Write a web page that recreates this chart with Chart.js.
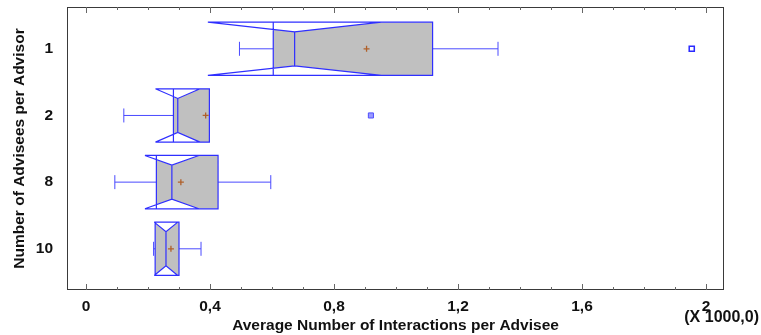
<!DOCTYPE html>
<html>
<head>
<meta charset="utf-8">
<script src="https://cdn.jsdelivr.net/npm/chart.js@4"></script>
<style>
  body { margin: 0; background: #fff; }
</style>
</head>
<body>
<canvas id="boxChart" width="761" height="335"></canvas>
<script>
// groups (y axis categories), top to bottom
var groups = ["1", "2", "8", "10"];

// box plot statistics, in units of 1000 interactions
var q1 = [0.604, 0.282, 0.227, 0.223];
var medians = [0.673, 0.296, 0.277, 0.258];
var q3 = [1.118, 0.398, 0.426, 0.300];
var whiskerLo = [0.495, 0.122, 0.093, 0.218];
var whiskerHi = [1.329, 0.398, 0.596, 0.371];
var means = [0.905, 0.386, 0.306, 0.274];
var notchHalf = [0.28, 0.072, 0.087, 0.038];

// outside points: [group index, value]
var outsidePoints = [[0, 1.954]];
var farOutsidePoints = [[1, 0.919]];

// x axis ticks
var xTicks = [0, 0.4, 0.8, 1.2, 1.6, 2];
var xTickLabels = ["0", "0,4", "0,8", "1,2", "1,6", "2"];

var FONT = "'Liberation Sans', Arial, sans-serif";
var FONT_SIZE = 15.5;
var BLUE = "#2f2fff";

// notched boxes, whiskers, frame and inward ticks
var boxPlugin = {
    id: "notchedBoxes",
    beforeDatasetsDraw: function (chart) {
        var ctx = chart.ctx;
        var x = chart.scales.x, y = chart.scales.y;
        var area = chart.chartArea;

        // frame
        ctx.save();
        ctx.strokeStyle = "#3a3a3a";
        ctx.lineWidth = 1;
        ctx.strokeRect(area.left + 0.5, area.top + 0.5, area.right - area.left - 1, area.bottom - area.top - 1);

        // ticks every 0.1, inward on top and bottom
        ctx.strokeStyle = "#666";
        for (var k = 0; k <= 20; k++) {
            var px = Math.round(x.getPixelForValue(k / 10)) + 0.5;
            var len = (k % 4 === 0) ? 6 : 3;
            ctx.beginPath();
            ctx.moveTo(px, area.top);
            ctx.lineTo(px, area.top + len);
            ctx.moveTo(px, area.bottom);
            ctx.lineTo(px, area.bottom - len);
            ctx.stroke();
        }
        ctx.restore();

        groups.forEach(function (g, i) {
            var yc = y.getPixelForValue(i);
            var top = y.getPixelForValue(i - 0.4);
            var bot = y.getPixelForValue(i + 0.4);
            var nTop = y.getPixelForValue(i - 0.255);
            var nBot = y.getPixelForValue(i + 0.255);
            var capT = y.getPixelForValue(i - 0.105);
            var capB = y.getPixelForValue(i + 0.105);

            var xq1 = x.getPixelForValue(q1[i]);
            var xq3 = x.getPixelForValue(q3[i]);
            var xm = x.getPixelForValue(medians[i]);
            var xnl = x.getPixelForValue(medians[i] - notchHalf[i]);
            var xnh = x.getPixelForValue(medians[i] + notchHalf[i]);
            var xwl = x.getPixelForValue(whiskerLo[i]);
            var xwh = x.getPixelForValue(whiskerHi[i]);

            ctx.save();

            // whiskers
            ctx.strokeStyle = "#4a4aff";
            ctx.lineWidth = 1;
            ctx.beginPath();
            if (xwl < xq1) {
                ctx.moveTo(xwl, yc); ctx.lineTo(xq1, yc);
                ctx.moveTo(xwl, capT); ctx.lineTo(xwl, capB);
            }
            if (xwh > xq3) {
                ctx.moveTo(xq3, yc); ctx.lineTo(xwh, yc);
                ctx.moveTo(xwh, capT); ctx.lineTo(xwh, capB);
            }
            ctx.stroke();

            // fill: box clipped by notch
            ctx.save();
            ctx.beginPath();
            ctx.rect(xq1, top, xq3 - xq1, bot - top);
            ctx.clip();
            ctx.beginPath();
            ctx.moveTo(xq1 - 1000, top);
            ctx.lineTo(xnl, top);
            ctx.lineTo(xm, nTop);
            ctx.lineTo(xnh, top);
            ctx.lineTo(xq3 + 1000, top);
            ctx.lineTo(xq3 + 1000, bot);
            ctx.lineTo(xnh, bot);
            ctx.lineTo(xm, nBot);
            ctx.lineTo(xnl, bot);
            ctx.lineTo(xq1 - 1000, bot);
            ctx.closePath();
            ctx.fillStyle = "#c0c0c0";
            ctx.fill();
            ctx.restore();

            // outlines
            ctx.strokeStyle = BLUE;
            ctx.lineWidth = 1.2;
            ctx.beginPath();
            ctx.rect(xq1, top, xq3 - xq1, bot - top);
            ctx.moveTo(Math.min(xnl, xq1), top); ctx.lineTo(xq1, top);
            ctx.moveTo(Math.min(xnl, xq1), bot); ctx.lineTo(xq1, bot);
            ctx.moveTo(xq3, top); ctx.lineTo(Math.max(xnh, xq3), top);
            ctx.moveTo(xq3, bot); ctx.lineTo(Math.max(xnh, xq3), bot);
            ctx.moveTo(xnl, top); ctx.lineTo(xm, nTop); ctx.lineTo(xnh, top);
            ctx.moveTo(xnl, bot); ctx.lineTo(xm, nBot); ctx.lineTo(xnh, bot);
            ctx.moveTo(xm, nTop); ctx.lineTo(xm, nBot);
            ctx.stroke();

            ctx.restore();
        });
    },
    afterDraw: function (chart) {
        var ctx = chart.ctx;
        ctx.save();
        ctx.font = "bold 16px " + FONT;
        ctx.fillStyle = "#111";
        ctx.textAlign = "right";
        ctx.textBaseline = "alphabetic";
        ctx.fillText("(X 1000,0)", 759, 322);
        ctx.restore();
    }
};

var ctx = document.getElementById("boxChart").getContext("2d");

new Chart(ctx, {
    type: "scatter",
    data: {
        datasets: [
            {
                label: "Far outside",
                data: farOutsidePoints.map(function (p) { return { x: p[1], y: p[0] }; }),
                pointStyle: "rect",
                pointRadius: 3.6,
                backgroundColor: "#9a9aff",
                borderColor: "#5050ff",
                borderWidth: 1
            },
            {
                label: "Far outside mark",
                data: farOutsidePoints.map(function (p) { return { x: p[1], y: p[0] }; }),
                pointStyle: "cross",
                pointRadius: 2.5,
                borderColor: "#a05a30",
                borderWidth: 1.3
            },
            {
                label: "Outside",
                data: outsidePoints.map(function (p) { return { x: p[1], y: p[0] }; }),
                pointStyle: "rect",
                pointRadius: 3.6,
                backgroundColor: "#fff",
                borderColor: "#2a2aff",
                borderWidth: 1.5
            },
            {
                label: "Mean",
                data: means.map(function (m, i) { return { x: m, y: i }; }),
                pointStyle: "cross",
                pointRadius: 3,
                borderColor: "#b0602a",
                borderWidth: 1.3
            }
        ]
    },
    options: {
        responsive: false,
        animation: false,
        layout: { padding: { top: 7, right: 37, left: 0, bottom: 0 } },
        plugins: {
            legend: { display: false },
            tooltip: { enabled: false }
        },
        scales: {
            x: {
                type: "linear",
                min: -0.0613,
                max: 2.058,
                afterBuildTicks: function (scale) {
                    scale.ticks = xTicks.map(function (v) { return { value: v }; });
                },
                afterFit: function (scale) {
                    scale.height = 45;
                    scale.paddingLeft = 0;
                    scale.paddingRight = 0;
                },
                grid: { display: false, drawTicks: false },
                border: { display: false },
                ticks: {
                    autoSkip: false,
                    maxRotation: 0,
                    padding: 7,
                    color: "#111",
                    font: { family: FONT, size: FONT_SIZE, weight: "bold" },
                    callback: function (v, idx) { return xTickLabels[idx]; }
                },
                title: {
                    display: true,
                    text: "Average Number of Interactions per Advisee",
                    color: "#111",
                    font: { family: FONT, size: FONT_SIZE, weight: "bold" },
                    padding: { top: 0, bottom: 0 }
                }
            },
            y: {
                type: "linear",
                reverse: true,
                min: -0.627,
                max: 3.618,
                afterBuildTicks: function (scale) {
                    scale.ticks = groups.map(function (g, i) { return { value: i }; });
                },
                afterFit: function (scale) {
                    scale.width = 67;
                    scale.paddingTop = 0;
                    scale.paddingBottom = 0;
                },
                grid: { display: false, drawTicks: false },
                border: { display: false },
                ticks: {
                    autoSkip: false,
                    padding: 14,
                    color: "#111",
                    font: { family: FONT, size: FONT_SIZE, weight: "bold" },
                    callback: function (v, idx) { return groups[idx]; }
                },
                title: {
                    display: true,
                    text: "Number of Advisees per Advisor",
                    color: "#111",
                    font: { family: FONT, size: FONT_SIZE, weight: "bold" },
                    padding: { top: 10, bottom: 0 }
                }
            }
        }
    },
    plugins: [boxPlugin]
});
</script>
</body>
</html>
